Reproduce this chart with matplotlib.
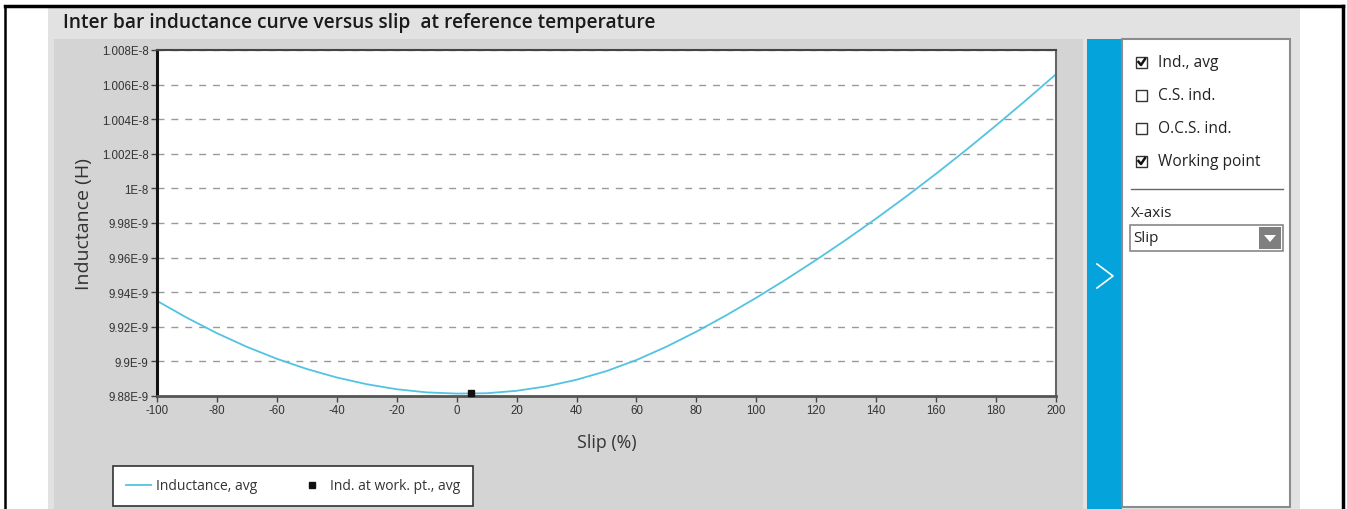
import numpy as np
import matplotlib
matplotlib.use('Agg')
import matplotlib.pyplot as plt
from matplotlib.patches import Rectangle, Polygon
from matplotlib.ticker import FixedLocator, FixedFormatter

plt.rcParams['font.family'] = ['Open Sans', 'DejaVu Sans']
plt.rcParams['axes.unicode_minus'] = False

# slip (%) and average inter bar inductance (H)
slip = [-100, -90, -80, -70, -60, -50, -40, -30, -20, -10, 0, 10, 20, 30, 40, 50,
        60, 70, 80, 90, 100, 110, 120, 130, 140, 150, 160, 170, 180, 190, 200]
inductance = [9.9350e-9, 9.9252e-9, 9.9163e-9, 9.9084e-9, 9.9015e-9, 9.8956e-9,
              9.8907e-9, 9.8868e-9, 9.8839e-9, 9.8821e-9, 9.8814e-9, 9.8816e-9,
              9.8830e-9, 9.8856e-9, 9.8894e-9, 9.8944e-9, 9.9008e-9, 9.9085e-9,
              9.9172e-9, 9.9267e-9, 9.9368e-9, 9.9475e-9, 9.9587e-9, 9.9704e-9,
              9.9826e-9, 9.9953e-9, 10.0085e-9, 10.0222e-9, 10.0364e-9, 10.0510e-9,
              10.0660e-9]

work_slip = [4.8]
work_ind = [9.8816e-9]

x_ticks = [-100, -80, -60, -40, -20, 0, 20, 40, 60, 80, 100, 120, 140, 160, 180, 200]
y_ticks = [9.88e-9, 9.90e-9, 9.92e-9, 9.94e-9, 9.96e-9, 9.98e-9,
           1.000e-8, 1.002e-8, 1.004e-8, 1.006e-8, 1.008e-8]
y_tick_labels = ['9.88E-9', '9.9E-9', '9.92E-9', '9.94E-9', '9.96E-9', '9.98E-9',
                 '1E-8', '1.002E-8', '1.004E-8', '1.006E-8', '1.008E-8']

series_options = ['Ind., avg', 'C.S. ind.', 'O.C.S. ind.', 'Working point']
series_checked = [True, False, False, True]

W, H = 1347, 510
fig = plt.figure(figsize=(W / 100, H / 100), dpi=100)
fig.patch.set_facecolor('white')

# background panels, drawn in pixel coordinates
bg = fig.add_axes([0, 0, 1, 1], zorder=0)
bg.set_xlim(0, W)
bg.set_ylim(H, 0)
bg.axis('off')

bg.plot([5, 1343], [7, 7], color='black', lw=2.5)
bg.plot([5, 5], [7, H], color='black', lw=1.8)
bg.plot([1343, 1343], [7, H], color='black', lw=2.5)
bg.add_patch(Rectangle((48, 8), 1252, H, facecolor='#e2e2e2', edgecolor='none'))
bg.add_patch(Rectangle((54, 40), 1029, H, facecolor='#d4d4d4', edgecolor='none'))
bg.text(63, 23, 'Inter bar inductance curve versus slip  at reference temperature',
        fontsize=13.8, fontweight='semibold', color='#1a1a1a', va='center', ha='left')

# collapsible side panel
bg.add_patch(Rectangle((1087, 40), 35, H, facecolor='#05a3dc', edgecolor='none'))
bg.plot([1097, 1113, 1097], [265, 277, 289], color='white', lw=1.2)
bg.add_patch(Rectangle((1122, 40), 168, 468, facecolor='white', edgecolor='#8c8c8c', lw=1.5))

for i, (name, checked) in enumerate(zip(series_options, series_checked)):
    yc = 63 + i * 33
    bg.add_patch(Rectangle((1136, yc - 5.5), 11, 11, facecolor='white', edgecolor='#333333', lw=1))
    if checked:
        bg.plot([1138.5, 1141, 1145], [yc, yc + 3, yc - 3], color='#111111', lw=1.8)
    bg.text(1158, yc, name, fontsize=11.2, color='#222222', va='center', ha='left')

bg.plot([1131, 1283], [190, 190], color='#666666', lw=1)
bg.text(1131, 214, 'X-axis', fontsize=11, color='#222222', va='center', ha='left')
bg.add_patch(Rectangle((1130, 226), 153, 26, facecolor='white', edgecolor='#888888', lw=1.2))
bg.text(1133, 239, 'Slip', fontsize=11, color='#222222', va='center', ha='left')
bg.add_patch(Rectangle((1259, 228), 22, 22, facecolor='#7f7f7f', edgecolor='none'))
bg.add_patch(Polygon([[1264, 236], [1276, 236], [1270, 243]], closed=True,
                     facecolor='white', edgecolor='none'))

# main chart
ax = fig.add_axes([157 / W, (H - 397) / H, 899 / W, 346 / H], zorder=2)
ax.set_facecolor('white')
line, = ax.plot(slip, inductance, color='#52c3e0', lw=1.3, label='Inductance, avg')
pts, = ax.plot(work_slip, work_ind, 's', color='#111111', ms=4, label='Ind. at work. pt., avg',
               clip_on=False, zorder=5)

ax.set_xlim(-100, 200)
ax.set_ylim(9.88e-9, 1.008e-8)
ax.xaxis.set_major_locator(FixedLocator(x_ticks))
ax.yaxis.set_major_locator(FixedLocator(y_ticks))
ax.yaxis.set_major_formatter(FixedFormatter(y_tick_labels))
ax.tick_params(axis='both', direction='out', length=4, width=1, color='#444444',
               labelsize=8.3, labelcolor='#333333', pad=2)
for lab in ax.get_xticklabels() + ax.get_yticklabels():
    lab.set_family(['Liberation Sans', 'DejaVu Sans'])

ax.grid(axis='y', linestyle=(0, (5, 5)), color='#9a9a9a', lw=1)
ax.spines['left'].set_color('#111111')
ax.spines['left'].set_linewidth(2.2)
ax.spines['bottom'].set_color('#555555')
ax.spines['bottom'].set_linewidth(2)
ax.spines['top'].set_color('#444444')
ax.spines['top'].set_linewidth(1.5)
ax.spines['right'].set_color('#666666')
ax.spines['right'].set_linewidth(1.5)

ax.set_xlabel('Slip (%)', fontsize=12.8, color='#333333', labelpad=12)
ax.set_ylabel('Inductance (H)', fontsize=14, color='#333333', labelpad=6)

leg = fig.legend(handles=[line, pts], loc='lower left', ncol=2, mode='expand',
                 bbox_to_anchor=(113 / W, 3 / H, 360 / W, 40 / H),
                 fancybox=False, framealpha=1, edgecolor='#333333', fontsize=10,
                 handlelength=1.8, handletextpad=0.4, borderpad=0.9, borderaxespad=0)
leg.get_frame().set_linewidth(1.2)
for t in leg.get_texts():
    t.set_color('#333333')

fig.savefig('out.png', dpi=100)
